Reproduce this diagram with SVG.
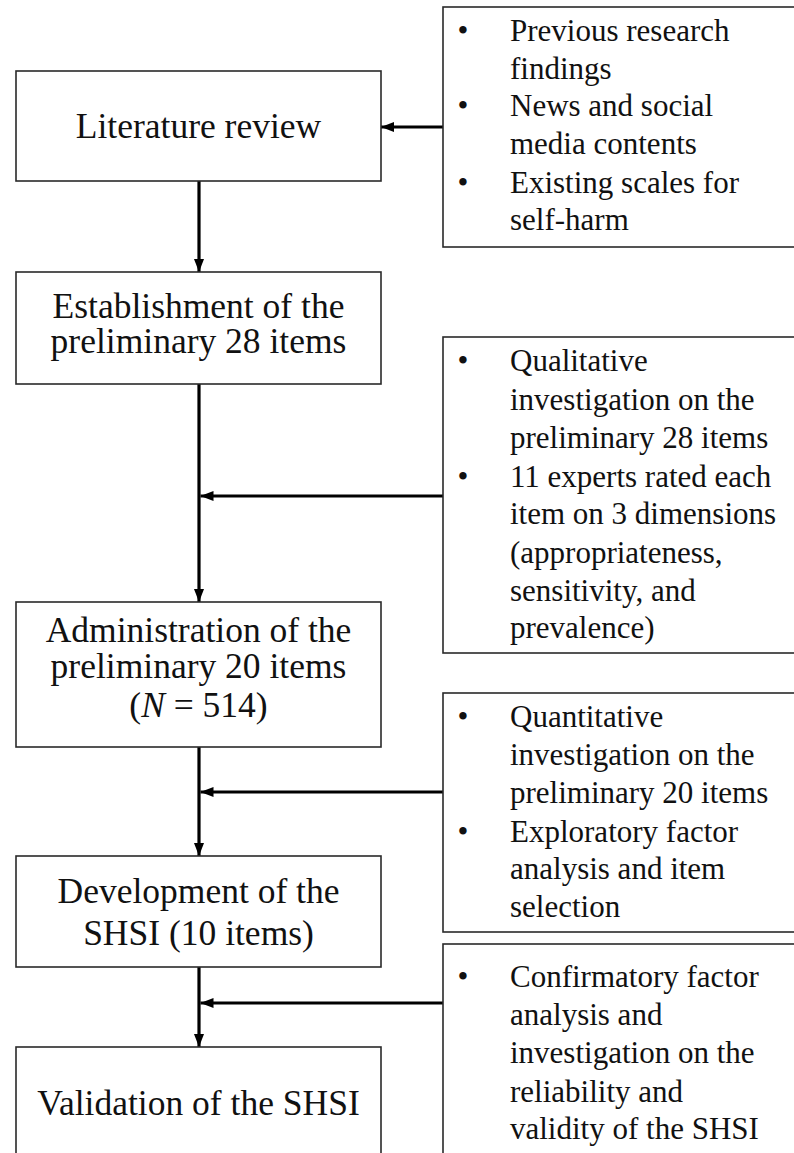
<svg xmlns="http://www.w3.org/2000/svg" width="794" height="1153" viewBox="0 0 794 1153">
<style>
.box{fill:#fff;stroke:#2a2a2a;stroke-width:1.6}
.lt{font-family:"Liberation Serif","Times New Roman",serif;font-size:35.5px;fill:#111;text-anchor:middle}
.rt{font-family:"Liberation Serif","Times New Roman",serif;font-size:31px;fill:#111}
.bl{font-family:"Liberation Serif","Times New Roman",serif;font-size:31px;fill:#111;text-anchor:middle}
.con{stroke:#000;stroke-width:3.2;fill:none;marker-end:url(#ah)}
</style>
<defs>
<marker id="ah" viewBox="0 0 13 10" refX="13" refY="5" markerWidth="13" markerHeight="10" markerUnits="userSpaceOnUse" orient="auto">
<path d="M0,0 L13,5 L0,10 z" fill="#000"/>
</marker>
</defs>
<rect width="794" height="1153" fill="#fff"/>
<g id="connectors">
<line class="con" x1="199" y1="181" x2="199" y2="272"/>
<line class="con" x1="199" y1="384" x2="199" y2="602"/>
<line class="con" x1="199" y1="747" x2="199" y2="856"/>
<line class="con" x1="199" y1="967" x2="199" y2="1047"/>
<line class="con" x1="443" y1="127" x2="381" y2="127"/>
<line class="con" x1="443" y1="496" x2="200.5" y2="496"/>
<line class="con" x1="443" y1="792" x2="200.5" y2="792"/>
<line class="con" x1="443" y1="1003" x2="200.5" y2="1003"/>
</g>
<g id="lit-review">
<rect class="box" x="16" y="71" width="365" height="110"/>
<text class="lt" x="198.5" y="138">Literature review</text>
</g>
<g id="establishment">
<rect class="box" x="16" y="272" width="365" height="112"/>
<text class="lt" x="198.5" y="318">Establishment of the</text>
<text class="lt" x="198.5" y="353">preliminary 28 items</text>
</g>
<g id="administration">
<rect class="box" x="16" y="602" width="365" height="145"/>
<text class="lt" x="198.5" y="642">Administration of the</text>
<text class="lt" x="198.5" y="678">preliminary 20 items</text>
<text class="lt" x="198.5" y="717">(<tspan font-style="italic">N</tspan> = 514)</text>
</g>
<g id="development">
<rect class="box" x="16" y="856" width="365" height="111"/>
<text class="lt" x="198.5" y="903">Development of the</text>
<text class="lt" x="198.5" y="945">SHSI (10 items)</text>
</g>
<g id="validation">
<rect class="box" x="16" y="1047" width="365" height="120"/>
<text class="lt" x="198.5" y="1115">Validation of the SHSI</text>
</g>
<g id="sources">
<rect class="box" x="443" y="7" width="360" height="240"/>
<text class="bl" x="463" y="41">•</text>
<text class="rt" x="510" y="41">Previous research</text>
<text class="rt" x="510" y="79">findings</text>
<text class="bl" x="463" y="116">•</text>
<text class="rt" x="510" y="116">News and social</text>
<text class="rt" x="510" y="154">media contents</text>
<text class="bl" x="463" y="193">•</text>
<text class="rt" x="510" y="193">Existing scales for</text>
<text class="rt" x="510" y="230">self-harm</text>
</g>
<g id="qualitative">
<rect class="box" x="443" y="337" width="360" height="316"/>
<text class="bl" x="463" y="371">•</text>
<text class="rt" x="510" y="371">Qualitative</text>
<text class="rt" x="510" y="410">investigation on the</text>
<text class="rt" x="510" y="448">preliminary 28 items</text>
<text class="bl" x="463" y="487">•</text>
<text class="rt" x="510" y="487">11 experts rated each</text>
<text class="rt" x="510" y="524">item on 3 dimensions</text>
<text class="rt" x="510" y="563">(appropriateness,</text>
<text class="rt" x="510" y="601">sensitivity, and</text>
<text class="rt" x="510" y="638">prevalence)</text>
</g>
<g id="quantitative">
<rect class="box" x="443" y="693" width="360" height="239"/>
<text class="bl" x="463" y="727">•</text>
<text class="rt" x="510" y="727">Quantitative</text>
<text class="rt" x="510" y="765">investigation on the</text>
<text class="rt" x="510" y="803">preliminary 20 items</text>
<text class="bl" x="463" y="842">•</text>
<text class="rt" x="510" y="842">Exploratory factor</text>
<text class="rt" x="510" y="879">analysis and item</text>
<text class="rt" x="510" y="917">selection</text>
</g>
<g id="confirmatory">
<rect class="box" x="443" y="944" width="360" height="230"/>
<text class="bl" x="463" y="987">•</text>
<text class="rt" x="510" y="987">Confirmatory factor</text>
<text class="rt" x="510" y="1025">analysis and</text>
<text class="rt" x="510" y="1063">investigation on the</text>
<text class="rt" x="510" y="1102">reliability and</text>
<text class="rt" x="510" y="1139">validity of the SHSI</text>
</g>
</svg>
